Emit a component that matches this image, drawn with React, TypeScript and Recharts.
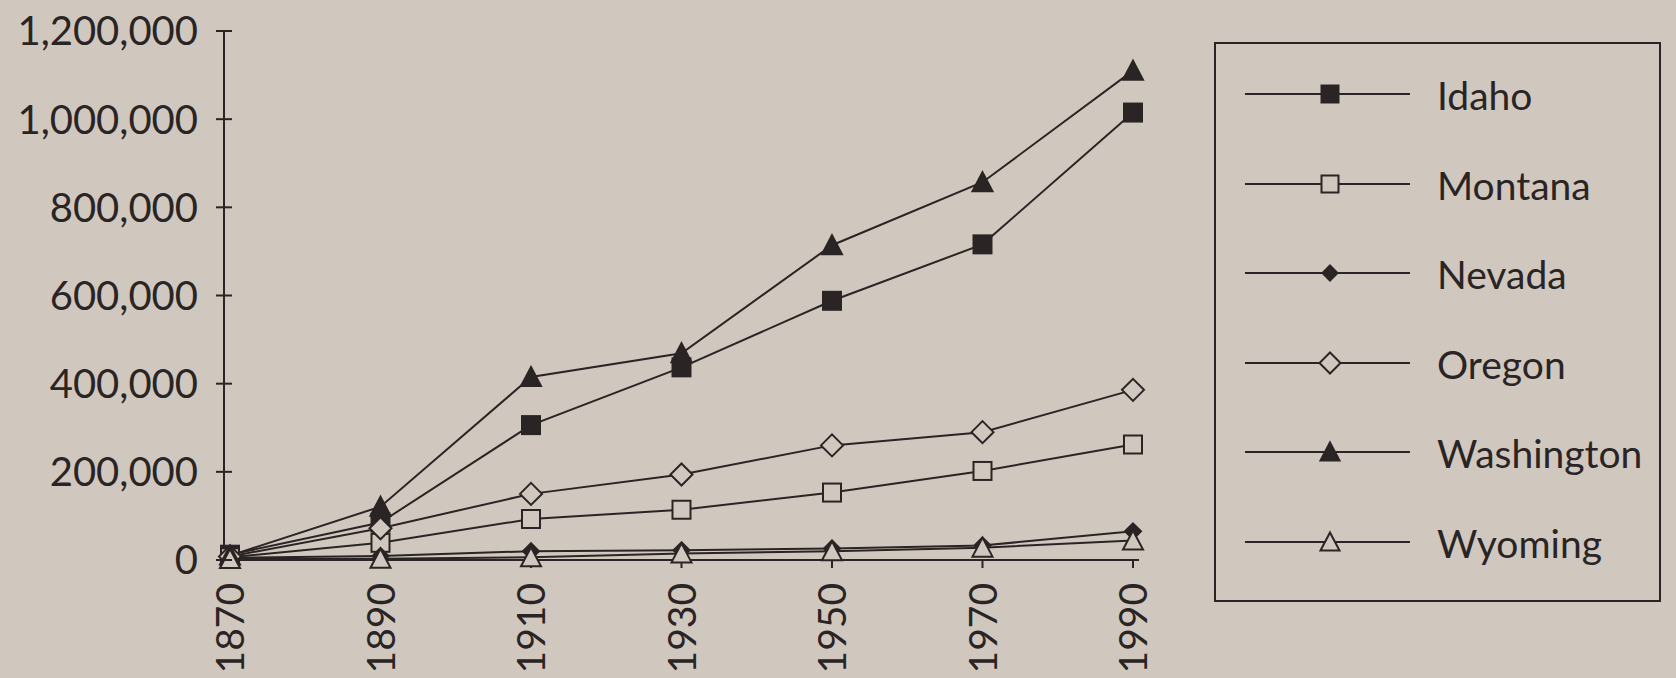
import React from "react";
import { LineChart, Line, XAxis, YAxis, Legend } from "recharts";

const years = ["1870", "1890", "1910", "1930", "1950", "1970", "1990"];
const idaho = [12000, 85000, 306000, 437000, 588000, 716000, 1015000];
const montana = [6000, 39000, 93000, 114000, 153000, 202000, 262000];
const nevada = [5000, 9000, 20000, 22000, 26000, 33000, 65000];
const oregon = [8000, 72000, 150000, 194000, 260000, 290000, 386000];
const washington = [10000, 121000, 415000, 469000, 714000, 857000, 1110000];
const wyoming = [2000, 3000, 6000, 15000, 20000, 28000, 44000];
const yTicks = [0, 200000, 400000, 600000, 800000, 1000000, 1200000];

const data = years.map((year, i) => ({
  year,
  Idaho: idaho[i],
  Montana: montana[i],
  Nevada: nevada[i],
  Oregon: oregon[i],
  Washington: washington[i],
  Wyoming: wyoming[i],
}));

const ink = "#2a2424";
const bg = "#d0c8bf";
const font = "Lato, 'Open Sans', sans-serif";

type Shape = "square" | "squareOpen" | "diamond" | "diamondOpen" | "triangle" | "triangleOpen";

const shapes: Record<string, Shape> = {
  Idaho: "square",
  Montana: "squareOpen",
  Nevada: "diamond",
  Oregon: "diamondOpen",
  Washington: "triangle",
  Wyoming: "triangleOpen",
};

function Marker({ cx, cy, shape, size = 20 }: { cx: number; cy: number; shape: Shape; size?: number }) {
  const h = size / 2;
  const open = shape.endsWith("Open");
  const fill = open ? bg : ink;
  if (shape.startsWith("square")) {
    return <rect x={cx - h + 1} y={cy - h + 1} width={size - 2} height={size - 2} fill={fill} stroke={ink} strokeWidth={2} />;
  }
  if (shape.startsWith("diamond")) {
    const d = open ? h + 1 : h - 2;
    return <polygon points={`${cx},${cy - d} ${cx + d},${cy} ${cx},${cy + d} ${cx - d},${cy}`} fill={fill} stroke={ink} strokeWidth={2} />;
  }
  return <polygon points={`${cx},${cy - h} ${cx + h},${cy + h - 1} ${cx - h},${cy + h - 1}`} fill={fill} stroke={ink} strokeWidth={2} strokeLinejoin="miter" />;
}

const fmt = (v: number) => v.toLocaleString("en-US");

function YTick(props: any) {
  const { x, y, payload } = props;
  const ax = x + 26;
  return (
    <g>
      <line x1={ax - 8} x2={ax + 8} y1={y} y2={y} stroke={ink} strokeWidth={2} />
      <text x={x} y={y} dy="0.36em" textAnchor="end" fill={ink} fontSize={40} fontFamily={font}>
        {fmt(payload.value)}
      </text>
    </g>
  );
}

function XTick(props: any) {
  const { x, y, payload } = props;
  return (
    <text x={x} y={y} dy="0.36em" transform={`rotate(-90 ${x} ${y})`} textAnchor="end" fill={ink} fontSize={39} fontFamily={font}>
      {payload.value}
    </text>
  );
}

function LegendBox(props: any) {
  const payload = props.payload || [];
  return (
    <div style={{ width: 447, height: 560, border: `2px solid ${ink}`, boxSizing: "border-box", position: "relative" }}>
      {payload.map((entry: any, i: number) => (
        <svg key={entry.value} width={443} height={60} style={{ position: "absolute", left: 0, top: 50 + i * 89.5 - 30 }}>
          <line x1={29} x2={194} y1={30} y2={30} stroke={ink} strokeWidth={2} />
          <Marker cx={114} cy={30} shape={shapes[entry.value]} size={19} />
          <text x={221} y={30} dy="0.4em" fill={ink} fontSize={39} fontFamily={font}>
            {entry.value}
          </text>
        </svg>
      ))}
    </div>
  );
}

const series = ["Idaho", "Montana", "Nevada", "Oregon", "Washington", "Wyoming"];

export default function App() {
  return (
    <div style={{ position: "absolute", left: 0, top: 0, width: 1676, height: 678, background: bg }}>
      <style>{`body{margin:0;background:${bg}}`}</style>
      <LineChart width={1676} height={678} data={data} margin={{ top: 31, right: 537, bottom: 0, left: 0 }}>
        <XAxis
          dataKey="year"
          height={118}
          padding={{ left: 6, right: 6 }}
          axisLine={{ stroke: ink, strokeWidth: 2 }}
          tickLine={{ stroke: ink, strokeWidth: 2 }}
          tickSize={8}
          tickMargin={15}
          tick={<XTick />}
          interval={0}
        />
        <YAxis
          width={224}
          domain={[0, 1200000]}
          ticks={yTicks}
          axisLine={{ stroke: ink, strokeWidth: 2 }}
          tickLine={false}
          tickSize={8}
          tickMargin={18}
          tick={<YTick />}
          interval={0}
        />
        <Legend
          layout="vertical"
          align="center"
          verticalAlign="middle"
          content={<LegendBox />}
          wrapperStyle={{ position: "absolute", left: 1214, top: 42, width: 447, height: 560 }}
        />
        {series.map((name) => (
          <Line
            key={name}
            dataKey={name}
            name={name}
            stroke={ink}
            strokeWidth={2}
            type="linear"
            isAnimationActive={false}
            dot={(p: any) => <Marker key={`${name}-${p.index}`} cx={p.cx} cy={p.cy} shape={shapes[name]} />}
            activeDot={false}
          />
        ))}
      </LineChart>
    </div>
  );
}
